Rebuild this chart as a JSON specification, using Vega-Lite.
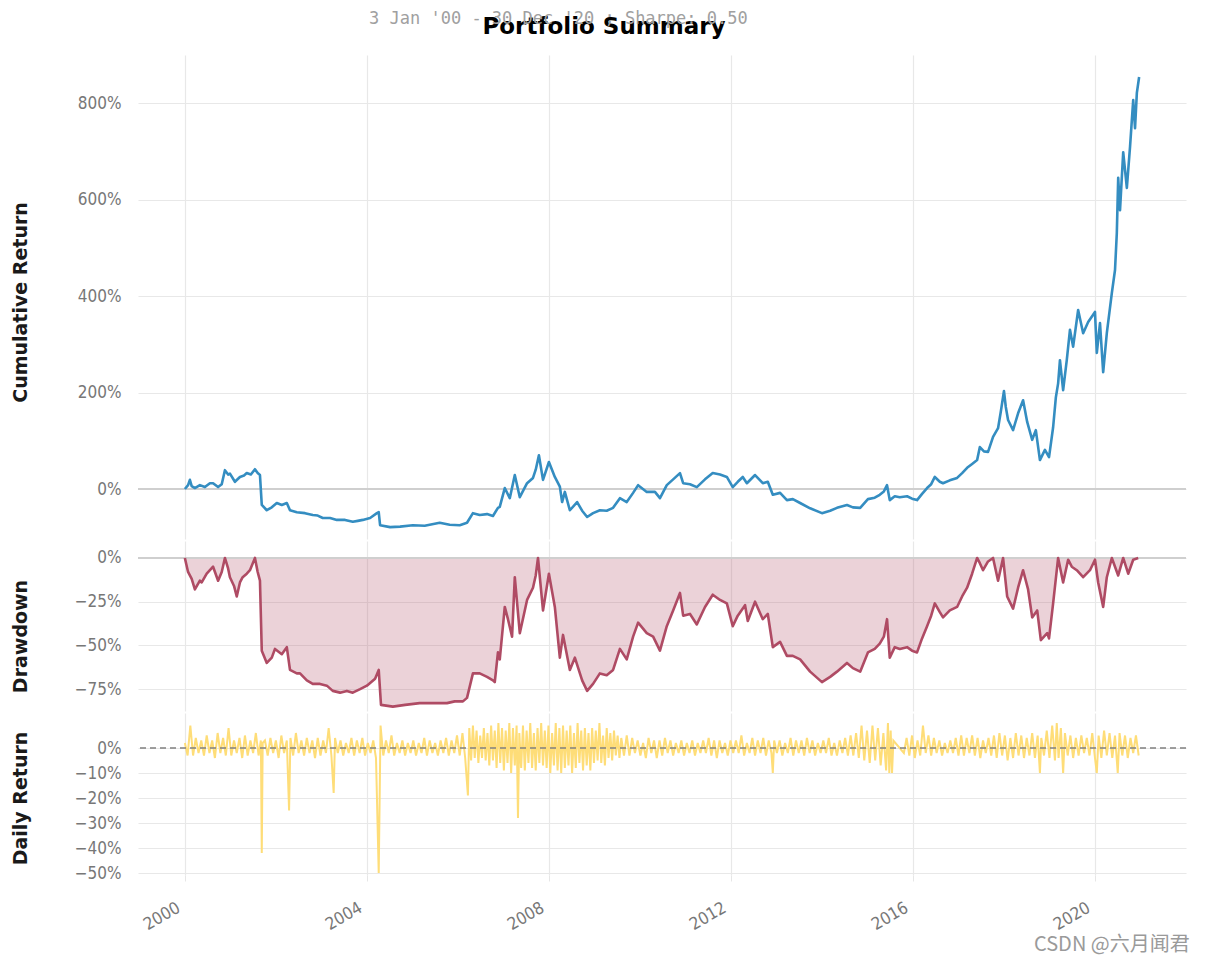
{
  "$schema": "https://vega.github.io/schema/vega-lite/v6.json",
  "padding": {"left": 10, "top": 10, "right": 5, "bottom": 5},
  "background": "white",
  "title": {"text": "3 Jan '00 - 30 Dec '20 ; Sharpe: 0.50", "anchor": "middle", "font": "DejaVu Sans Mono", "fontSize": 17, "fontWeight": "normal", "color": "#a0a0a0", "offset": -12, "dx": -42},
  "spacing": 2,
  "bounds": "flush",
  "datasets": {
    "cum": [
      {"t":2000.00,"c":0},{"t":2000.07,"c":8},{"t":2000.11,"c":19},{"t":2000.15,"c":6},{"t":2000.22,"c":2},{"t":2000.33,"c":8},{"t":2000.44,"c":4},{"t":2000.55,"c":12},{"t":2000.62,"c":12},{"t":2000.73,"c":4},{"t":2000.81,"c":10},{"t":2000.88,"c":39},{"t":2000.95,"c":30},{"t":2000.99,"c":32},
      {"t":2001.10,"c":15},{"t":2001.21,"c":25},{"t":2001.30,"c":28},{"t":2001.36,"c":33},{"t":2001.45,"c":30},{"t":2001.54,"c":41},{"t":2001.60,"c":33},{"t":2001.65,"c":29},{"t":2001.69,"c":-33},{"t":2001.80,"c":-44},{"t":2001.91,"c":-38},
      {"t":2002.02,"c":-29},{"t":2002.13,"c":-33},{"t":2002.24,"c":-29},{"t":2002.31,"c":-44},{"t":2002.46,"c":-48},{"t":2002.64,"c":-50},{"t":2002.81,"c":-54},{"t":2002.92,"c":-55},
      {"t":2003.03,"c":-60},{"t":2003.19,"c":-60},{"t":2003.34,"c":-64},{"t":2003.52,"c":-64},{"t":2003.69,"c":-68},{"t":2003.80,"c":-66},{"t":2003.91,"c":-64},
      {"t":2004.07,"c":-60},{"t":2004.22,"c":-50},{"t":2004.26,"c":-48},{"t":2004.29,"c":-75},{"t":2004.51,"c":-79},{"t":2004.73,"c":-78},
      {"t":2005.01,"c":-75},{"t":2005.27,"c":-76},{"t":2005.60,"c":-70},{"t":2005.82,"c":-74},
      {"t":2006.04,"c":-75},{"t":2006.20,"c":-70},{"t":2006.33,"c":-50},{"t":2006.48,"c":-54},{"t":2006.64,"c":-52},{"t":2006.77,"c":-56},{"t":2006.88,"c":-39},{"t":2006.92,"c":-37},
      {"t":2007.03,"c":2},{"t":2007.14,"c":-19},{"t":2007.25,"c":29},{"t":2007.36,"c":-17},{"t":2007.52,"c":12},{"t":2007.65,"c":23},{"t":2007.71,"c":40},{"t":2007.78,"c":70},{"t":2007.87,"c":19},
      {"t":2008.00,"c":56},{"t":2008.13,"c":25},{"t":2008.24,"c":5},{"t":2008.29,"c":-27},{"t":2008.35,"c":-6},{"t":2008.46,"c":-44},{"t":2008.62,"c":-27},{"t":2008.73,"c":-45},{"t":2008.84,"c":-58},{"t":2008.97,"c":-50},
      {"t":2009.12,"c":-44},{"t":2009.27,"c":-45},{"t":2009.41,"c":-39},{"t":2009.56,"c":-19},{"t":2009.71,"c":-27},{"t":2009.85,"c":-8},{"t":2009.96,"c":8},
      {"t":2010.15,"c":-6},{"t":2010.33,"c":-6},{"t":2010.44,"c":-19},{"t":2010.59,"c":8},{"t":2010.73,"c":20},{"t":2010.88,"c":33},{"t":2010.95,"c":12},
      {"t":2011.10,"c":10},{"t":2011.25,"c":4},{"t":2011.43,"c":20},{"t":2011.60,"c":33},{"t":2011.76,"c":30},{"t":2011.91,"c":25},
      {"t":2012.04,"c":4},{"t":2012.15,"c":15},{"t":2012.26,"c":25},{"t":2012.35,"c":12},{"t":2012.53,"c":29},{"t":2012.70,"c":12},{"t":2012.81,"c":15},{"t":2012.92,"c":-12},
      {"t":2013.08,"c":-8},{"t":2013.23,"c":-23},{"t":2013.36,"c":-21},{"t":2013.52,"c":-29},{"t":2013.74,"c":-40},
      {"t":2014.00,"c":-50},{"t":2014.18,"c":-45},{"t":2014.33,"c":-39},{"t":2014.55,"c":-33},{"t":2014.68,"c":-38},{"t":2014.84,"c":-39},
      {"t":2015.01,"c":-21},{"t":2015.16,"c":-18},{"t":2015.27,"c":-12},{"t":2015.36,"c":-5},{"t":2015.43,"c":8},{"t":2015.49,"c":-23},{"t":2015.60,"c":-15},{"t":2015.71,"c":-17},{"t":2015.87,"c":-15},{"t":2015.98,"c":-20},
      {"t":2016.09,"c":-23},{"t":2016.20,"c":-10},{"t":2016.31,"c":2},{"t":2016.40,"c":10},{"t":2016.48,"c":25},{"t":2016.59,"c":15},{"t":2016.66,"c":12},{"t":2016.81,"c":18},{"t":2016.97,"c":23},
      {"t":2017.08,"c":33},{"t":2017.19,"c":44},{"t":2017.30,"c":52},{"t":2017.41,"c":60},{"t":2017.47,"c":87},{"t":2017.56,"c":78},{"t":2017.65,"c":77},{"t":2017.76,"c":108},{"t":2017.87,"c":126},{"t":2017.93,"c":160},
      {"t":2018.00,"c":203},{"t":2018.04,"c":170},{"t":2018.09,"c":143},{"t":2018.20,"c":122},{"t":2018.31,"c":157},{"t":2018.42,"c":184},{"t":2018.51,"c":139},{"t":2018.62,"c":102},{"t":2018.70,"c":122},{"t":2018.79,"c":60},{"t":2018.90,"c":81},{"t":2018.99,"c":66},
      {"t":2019.08,"c":128},{"t":2019.14,"c":190},{"t":2019.19,"c":219},{"t":2019.23,"c":267},{"t":2019.30,"c":205},{"t":2019.38,"c":267},{"t":2019.45,"c":330},{"t":2019.52,"c":295},{"t":2019.63,"c":371},{"t":2019.74,"c":323},{"t":2019.85,"c":346},
      {"t":2020.00,"c":367},{"t":2020.04,"c":282},{"t":2020.11,"c":344},{"t":2020.18,"c":242},{"t":2020.26,"c":323},{"t":2020.37,"c":406},{"t":2020.44,"c":454},{"t":2020.48,"c":531},{"t":2020.51,"c":645},{"t":2020.55,"c":578},{"t":2020.62,"c":698},{"t":2020.70,"c":624},{"t":2020.77,"c":709},{"t":2020.84,"c":806},{"t":2020.88,"c":748},{"t":2020.92,"c":821},{"t":2020.97,"c":854}
    ],
    "dd": [
      {"t":2000.00,"d":0},{"t":2000.07,"d":-8},{"t":2000.15,"d":-12},{"t":2000.22,"d":-18},{"t":2000.33,"d":-13},{"t":2000.37,"d":-14},{"t":2000.48,"d":-9},{"t":2000.62,"d":-5},{"t":2000.73,"d":-13},{"t":2000.81,"d":-8},{"t":2000.88,"d":0},{"t":2000.95,"d":-6},{"t":2000.99,"d":-11},
      {"t":2001.08,"d":-16},{"t":2001.14,"d":-22},{"t":2001.21,"d":-14},{"t":2001.27,"d":-11},{"t":2001.36,"d":-9},{"t":2001.43,"d":-7},{"t":2001.54,"d":0},{"t":2001.60,"d":-8},{"t":2001.65,"d":-13},{"t":2001.69,"d":-53},{"t":2001.80,"d":-60},{"t":2001.91,"d":-57},{"t":2001.98,"d":-52},
      {"t":2002.13,"d":-55},{"t":2002.24,"d":-51},{"t":2002.31,"d":-64},{"t":2002.46,"d":-66},{"t":2002.53,"d":-66},{"t":2002.68,"d":-70},{"t":2002.81,"d":-72},{"t":2002.97,"d":-72},
      {"t":2003.12,"d":-73},{"t":2003.25,"d":-76},{"t":2003.41,"d":-77},{"t":2003.56,"d":-76},{"t":2003.69,"d":-77},{"t":2003.85,"d":-75},
      {"t":2004.00,"d":-73},{"t":2004.18,"d":-69},{"t":2004.26,"d":-64},{"t":2004.31,"d":-84},{"t":2004.57,"d":-85},{"t":2004.84,"d":-84},
      {"t":2005.16,"d":-83},{"t":2005.49,"d":-83},{"t":2005.76,"d":-83},{"t":2005.93,"d":-82},
      {"t":2006.11,"d":-82},{"t":2006.20,"d":-80},{"t":2006.33,"d":-66},{"t":2006.48,"d":-66},{"t":2006.64,"d":-68},{"t":2006.77,"d":-70},{"t":2006.81,"d":-71},{"t":2006.88,"d":-54},{"t":2006.92,"d":-58},
      {"t":2007.03,"d":-28},{"t":2007.10,"d":-35},{"t":2007.19,"d":-45},{"t":2007.25,"d":-11},{"t":2007.36,"d":-43},{"t":2007.52,"d":-24},{"t":2007.65,"d":-17},{"t":2007.71,"d":-10},{"t":2007.76,"d":0},{"t":2007.87,"d":-30},
      {"t":2008.00,"d":-9},{"t":2008.13,"d":-28},{"t":2008.24,"d":-57},{"t":2008.31,"d":-44},{"t":2008.46,"d":-64},{"t":2008.57,"d":-57},{"t":2008.73,"d":-70},{"t":2008.84,"d":-76},{"t":2008.97,"d":-72},
      {"t":2009.12,"d":-66},{"t":2009.27,"d":-67},{"t":2009.41,"d":-64},{"t":2009.56,"d":-52},{"t":2009.71,"d":-58},{"t":2009.85,"d":-45},{"t":2009.96,"d":-37},
      {"t":2010.15,"d":-43},{"t":2010.29,"d":-45},{"t":2010.44,"d":-53},{"t":2010.59,"d":-39},{"t":2010.73,"d":-30},{"t":2010.88,"d":-20},{"t":2010.95,"d":-33},
      {"t":2011.10,"d":-32},{"t":2011.25,"d":-38},{"t":2011.43,"d":-28},{"t":2011.60,"d":-21},{"t":2011.76,"d":-24},{"t":2011.91,"d":-26},
      {"t":2012.04,"d":-39},{"t":2012.15,"d":-33},{"t":2012.31,"d":-27},{"t":2012.37,"d":-36},{"t":2012.53,"d":-25},{"t":2012.70,"d":-35},{"t":2012.81,"d":-32},{"t":2012.92,"d":-51},
      {"t":2013.08,"d":-48},{"t":2013.23,"d":-56},{"t":2013.36,"d":-56},{"t":2013.52,"d":-58},{"t":2013.74,"d":-65},
      {"t":2014.00,"d":-71},{"t":2014.18,"d":-68},{"t":2014.33,"d":-65},{"t":2014.55,"d":-60},{"t":2014.68,"d":-63},{"t":2014.84,"d":-65},
      {"t":2015.01,"d":-54},{"t":2015.16,"d":-52},{"t":2015.27,"d":-49},{"t":2015.36,"d":-45},{"t":2015.43,"d":-35},{"t":2015.49,"d":-57},{"t":2015.60,"d":-51},{"t":2015.71,"d":-52},{"t":2015.87,"d":-51},{"t":2015.98,"d":-53},
      {"t":2016.09,"d":-54},{"t":2016.20,"d":-46},{"t":2016.31,"d":-39},{"t":2016.40,"d":-33},{"t":2016.48,"d":-26},{"t":2016.59,"d":-31},{"t":2016.66,"d":-34},{"t":2016.81,"d":-30},{"t":2016.97,"d":-28},
      {"t":2017.08,"d":-22},{"t":2017.19,"d":-17},{"t":2017.30,"d":-9},{"t":2017.41,"d":0},{"t":2017.47,"d":-3},{"t":2017.54,"d":-7},{"t":2017.65,"d":-2},{"t":2017.76,"d":0},{"t":2017.87,"d":-13},{"t":2017.98,"d":0},
      {"t":2018.07,"d":-22},{"t":2018.20,"d":-29},{"t":2018.31,"d":-17},{"t":2018.42,"d":-7},{"t":2018.53,"d":-18},{"t":2018.62,"d":-34},{"t":2018.73,"d":-30},{"t":2018.81,"d":-47},{"t":2018.95,"d":-43},{"t":2018.99,"d":-46},
      {"t":2019.08,"d":-26},{"t":2019.19,"d":0},{"t":2019.30,"d":-14},{"t":2019.41,"d":-1},{"t":2019.49,"d":-5},{"t":2019.60,"d":-7},{"t":2019.74,"d":-11},{"t":2019.89,"d":-7},
      {"t":2020.00,"d":-1},{"t":2020.07,"d":-14},{"t":2020.18,"d":-28},{"t":2020.26,"d":-11},{"t":2020.37,"d":0},{"t":2020.51,"d":-10},{"t":2020.62,"d":0},{"t":2020.73,"d":-9},{"t":2020.84,"d":-1},{"t":2020.95,"d":0}
    ],
    "ret": [
      {"t":2000.00,"r":2},{"t":2000.06,"r":-3},{"t":2000.12,"r":9},{"t":2000.18,"r":-3},{"t":2000.24,"r":4},{"t":2000.30,"r":-2},{"t":2000.36,"r":3},{"t":2000.42,"r":-3},{"t":2000.48,"r":5},{"t":2000.54,"r":-2},{"t":2000.60,"r":3},{"t":2000.66,"r":-4},{"t":2000.72,"r":6},{"t":2000.78,"r":-2},{"t":2000.84,"r":4},{"t":2000.90,"r":-3},{"t":2000.96,"r":8},
      {"t":2001.02,"r":-3},{"t":2001.08,"r":3},{"t":2001.14,"r":-2},{"t":2001.20,"r":4},{"t":2001.26,"r":-4},{"t":2001.32,"r":5},{"t":2001.38,"r":-3},{"t":2001.44,"r":3},{"t":2001.50,"r":-2},{"t":2001.56,"r":6},{"t":2001.62,"r":-3},{"t":2001.67,"r":3},{"t":2001.69,"r":-42},{"t":2001.71,"r":2},
      {"t":2001.76,"r":3},{"t":2001.82,"r":-3},{"t":2001.88,"r":4},{"t":2001.94,"r":-2},{"t":2002.00,"r":3},{"t":2002.06,"r":-4},{"t":2002.12,"r":5},{"t":2002.18,"r":-2},{"t":2002.24,"r":3},{"t":2002.29,"r":-25},{"t":2002.32,"r":4},{"t":2002.38,"r":-3},{"t":2002.44,"r":6},{"t":2002.50,"r":-2},{"t":2002.56,"r":3},{"t":2002.62,"r":-3},{"t":2002.68,"r":4},{"t":2002.74,"r":-2},{"t":2002.80,"r":3},{"t":2002.86,"r":-4},{"t":2002.92,"r":4},{"t":2002.98,"r":-3},
      {"t":2003.04,"r":3},{"t":2003.10,"r":-2},{"t":2003.16,"r":8},{"t":2003.22,"r":-3},{"t":2003.27,"r":-18},{"t":2003.30,"r":4},{"t":2003.36,"r":-2},{"t":2003.42,"r":3},{"t":2003.48,"r":-3},{"t":2003.54,"r":2},{"t":2003.60,"r":-2},{"t":2003.66,"r":4},{"t":2003.72,"r":-3},{"t":2003.78,"r":3},{"t":2003.84,"r":-2},{"t":2003.90,"r":4},{"t":2003.96,"r":-3},
      {"t":2004.02,"r":2},{"t":2004.08,"r":-2},{"t":2004.14,"r":3},{"t":2004.20,"r":-4},{"t":2004.26,"r":-50},{"t":2004.30,"r":9},{"t":2004.36,"r":-3},{"t":2004.42,"r":3},{"t":2004.48,"r":-2},{"t":2004.54,"r":5},{"t":2004.60,"r":-3},{"t":2004.66,"r":2},{"t":2004.72,"r":-2},{"t":2004.78,"r":3},{"t":2004.84,"r":-3},{"t":2004.90,"r":2},{"t":2004.96,"r":-2},
      {"t":2005.02,"r":3},{"t":2005.08,"r":-3},{"t":2005.14,"r":2},{"t":2005.20,"r":-2},{"t":2005.26,"r":4},{"t":2005.32,"r":-3},{"t":2005.38,"r":3},{"t":2005.44,"r":-2},{"t":2005.50,"r":2},{"t":2005.56,"r":-3},{"t":2005.62,"r":3},{"t":2005.68,"r":-2},{"t":2005.74,"r":4},{"t":2005.80,"r":-3},{"t":2005.86,"r":3},{"t":2005.92,"r":-2},{"t":2005.98,"r":5},
      {"t":2006.04,"r":-3},{"t":2006.10,"r":6},{"t":2006.16,"r":-4},{"t":2006.22,"r":-19},{"t":2006.25,"r":8},{"t":2006.29,"r":-5},{"t":2006.33,"r":9},{"t":2006.37,"r":-4},{"t":2006.41,"r":7},{"t":2006.45,"r":-6},{"t":2006.49,"r":5},{"t":2006.53,"r":-4},{"t":2006.57,"r":8},{"t":2006.61,"r":-5},{"t":2006.65,"r":6},{"t":2006.69,"r":-7},{"t":2006.73,"r":9},{"t":2006.77,"r":-5},{"t":2006.81,"r":7},{"t":2006.85,"r":-8},{"t":2006.89,"r":10},{"t":2006.93,"r":-6},{"t":2006.97,"r":8},
      {"t":2007.01,"r":-9},{"t":2007.05,"r":7},{"t":2007.09,"r":-6},{"t":2007.13,"r":10},{"t":2007.17,"r":-10},{"t":2007.21,"r":8},{"t":2007.25,"r":-7},{"t":2007.29,"r":9},{"t":2007.32,"r":-28},{"t":2007.35,"r":6},{"t":2007.39,"r":-8},{"t":2007.43,"r":9},{"t":2007.47,"r":-9},{"t":2007.51,"r":7},{"t":2007.55,"r":-6},{"t":2007.59,"r":10},{"t":2007.63,"r":-8},{"t":2007.67,"r":6},{"t":2007.71,"r":-9},{"t":2007.75,"r":8},{"t":2007.79,"r":-6},{"t":2007.83,"r":10},{"t":2007.87,"r":-7},{"t":2007.91,"r":7},{"t":2007.95,"r":-8},{"t":2007.99,"r":9},
      {"t":2008.03,"r":-10},{"t":2008.07,"r":6},{"t":2008.11,"r":-7},{"t":2008.15,"r":10},{"t":2008.19,"r":-9},{"t":2008.23,"r":8},{"t":2008.27,"r":-10},{"t":2008.31,"r":9},{"t":2008.35,"r":-8},{"t":2008.39,"r":7},{"t":2008.43,"r":-7},{"t":2008.47,"r":9},{"t":2008.51,"r":-10},{"t":2008.55,"r":6},{"t":2008.59,"r":-8},{"t":2008.63,"r":10},{"t":2008.67,"r":-6},{"t":2008.71,"r":7},{"t":2008.75,"r":-9},{"t":2008.79,"r":8},{"t":2008.83,"r":-7},{"t":2008.87,"r":6},{"t":2008.91,"r":-9},{"t":2008.95,"r":8},{"t":2008.99,"r":-6},
      {"t":2009.03,"r":7},{"t":2009.07,"r":-5},{"t":2009.11,"r":10},{"t":2009.15,"r":-6},{"t":2009.19,"r":5},{"t":2009.23,"r":-7},{"t":2009.27,"r":8},{"t":2009.31,"r":-4},{"t":2009.35,"r":6},{"t":2009.39,"r":-5},{"t":2009.43,"r":7},{"t":2009.47,"r":-3},{"t":2009.51,"r":5},{"t":2009.55,"r":-4},
      {"t":2009.59,"r":4},{"t":2009.65,"r":-3},{"t":2009.71,"r":5},{"t":2009.77,"r":-3},{"t":2009.83,"r":4},{"t":2009.89,"r":-2},{"t":2009.95,"r":3},
      {"t":2010.01,"r":-3},{"t":2010.07,"r":2},{"t":2010.13,"r":-4},{"t":2010.19,"r":4},{"t":2010.25,"r":-2},{"t":2010.31,"r":3},{"t":2010.37,"r":-4},{"t":2010.43,"r":3},{"t":2010.49,"r":-3},{"t":2010.55,"r":4},{"t":2010.61,"r":-2},{"t":2010.67,"r":3},{"t":2010.73,"r":-3},{"t":2010.79,"r":2},{"t":2010.85,"r":-2},{"t":2010.91,"r":3},{"t":2010.97,"r":-3},
      {"t":2011.03,"r":2},{"t":2011.09,"r":-2},{"t":2011.15,"r":3},{"t":2011.21,"r":-3},{"t":2011.27,"r":2},{"t":2011.33,"r":-2},{"t":2011.39,"r":3},{"t":2011.45,"r":-2},{"t":2011.51,"r":4},{"t":2011.57,"r":-3},{"t":2011.63,"r":3},{"t":2011.69,"r":-4},{"t":2011.75,"r":3},{"t":2011.81,"r":-2},{"t":2011.87,"r":2},{"t":2011.93,"r":-3},{"t":2011.99,"r":3},
      {"t":2012.05,"r":-2},{"t":2012.11,"r":3},{"t":2012.17,"r":-2},{"t":2012.23,"r":5},{"t":2012.29,"r":-3},{"t":2012.35,"r":2},{"t":2012.41,"r":-2},{"t":2012.47,"r":4},{"t":2012.53,"r":-3},{"t":2012.59,"r":3},{"t":2012.65,"r":-2},{"t":2012.71,"r":4},{"t":2012.77,"r":-3},{"t":2012.83,"r":3},{"t":2012.89,"r":-2},{"t":2012.92,"r":-10},{"t":2012.95,"r":3},
      {"t":2013.01,"r":-2},{"t":2013.07,"r":3},{"t":2013.13,"r":-3},{"t":2013.19,"r":2},{"t":2013.25,"r":-2},{"t":2013.31,"r":4},{"t":2013.37,"r":-3},{"t":2013.43,"r":3},{"t":2013.49,"r":-2},{"t":2013.55,"r":3},{"t":2013.61,"r":-3},{"t":2013.67,"r":4},{"t":2013.73,"r":-2},{"t":2013.79,"r":3},{"t":2013.85,"r":-3},{"t":2013.91,"r":2},{"t":2013.97,"r":-2},
      {"t":2014.03,"r":3},{"t":2014.09,"r":-2},{"t":2014.15,"r":4},{"t":2014.21,"r":-3},{"t":2014.27,"r":2},{"t":2014.33,"r":-3},{"t":2014.39,"r":3},{"t":2014.45,"r":-2},{"t":2014.51,"r":4},{"t":2014.57,"r":-3},{"t":2014.63,"r":5},{"t":2014.69,"r":-3},{"t":2014.75,"r":6},{"t":2014.81,"r":-4},{"t":2014.87,"r":9},{"t":2014.93,"r":-5},{"t":2014.99,"r":7},
      {"t":2015.05,"r":-6},{"t":2015.11,"r":9},{"t":2015.17,"r":-5},{"t":2015.23,"r":8},{"t":2015.29,"r":-7},{"t":2015.35,"r":6},{"t":2015.41,"r":-9},{"t":2015.45,"r":10},{"t":2015.48,"r":-10},{"t":2015.51,"r":7},{"t":2015.54,"r":-10},{"t":2015.57,"r":3},
      {"t":2015.80,"r":-2},{"t":2015.86,"r":4},{"t":2015.92,"r":-3},{"t":2015.98,"r":5},
      {"t":2016.04,"r":-4},{"t":2016.10,"r":3},{"t":2016.16,"r":-3},{"t":2016.22,"r":9},{"t":2016.28,"r":-2},{"t":2016.34,"r":5},{"t":2016.40,"r":-3},{"t":2016.46,"r":4},{"t":2016.52,"r":-2},{"t":2016.58,"r":3},{"t":2016.64,"r":-3},{"t":2016.70,"r":2},{"t":2016.76,"r":-2},{"t":2016.82,"r":3},{"t":2016.88,"r":-2},{"t":2016.94,"r":4},
      {"t":2017.00,"r":-3},{"t":2017.06,"r":5},{"t":2017.12,"r":-3},{"t":2017.18,"r":4},{"t":2017.24,"r":-2},{"t":2017.30,"r":5},{"t":2017.36,"r":-3},{"t":2017.42,"r":4},{"t":2017.48,"r":-4},{"t":2017.54,"r":3},{"t":2017.60,"r":-2},{"t":2017.66,"r":4},{"t":2017.72,"r":-3},{"t":2017.78,"r":5},{"t":2017.84,"r":-4},{"t":2017.90,"r":6},{"t":2017.96,"r":-3},
      {"t":2018.02,"r":5},{"t":2018.08,"r":-5},{"t":2018.14,"r":4},{"t":2018.20,"r":-4},{"t":2018.26,"r":6},{"t":2018.32,"r":-3},{"t":2018.38,"r":5},{"t":2018.44,"r":-4},{"t":2018.50,"r":4},{"t":2018.56,"r":-3},{"t":2018.62,"r":6},{"t":2018.68,"r":-4},{"t":2018.74,"r":5},{"t":2018.79,"r":-10},{"t":2018.82,"r":4},{"t":2018.88,"r":-3},{"t":2018.94,"r":7},
      {"t":2019.00,"r":-4},{"t":2019.06,"r":9},{"t":2019.12,"r":-5},{"t":2019.16,"r":10},{"t":2019.20,"r":-4},{"t":2019.25,"r":8},{"t":2019.30,"r":-10},{"t":2019.34,"r":6},{"t":2019.40,"r":-3},{"t":2019.46,"r":5},{"t":2019.52,"r":-4},{"t":2019.58,"r":4},{"t":2019.64,"r":-3},{"t":2019.70,"r":5},{"t":2019.76,"r":-2},{"t":2019.82,"r":4},{"t":2019.88,"r":-3},{"t":2019.94,"r":6},
      {"t":2020.00,"r":-4},{"t":2020.04,"r":-10},{"t":2020.08,"r":5},{"t":2020.14,"r":-4},{"t":2020.20,"r":7},{"t":2020.26,"r":-3},{"t":2020.32,"r":6},{"t":2020.38,"r":-4},{"t":2020.44,"r":5},{"t":2020.50,"r":-10},{"t":2020.54,"r":6},{"t":2020.60,"r":-3},{"t":2020.66,"r":5},{"t":2020.72,"r":-4},{"t":2020.78,"r":4},{"t":2020.84,"r":-2},{"t":2020.90,"r":5},{"t":2020.96,"r":-3}
    ],
    "zero": [{"z": 0}]
  },
  "vconcat": [
    {
      "width": 1048,
      "height": 484,
      "title": {"text": "Portfolio Summary", "font": "DejaVu Sans", "fontSize": 23, "fontWeight": "bold", "color": "#000000", "anchor": "middle", "dx": -58, "offset": 16},
      "layer": [
        {
          "data": {"name": "zero"},
          "mark": {"type": "rule", "color": "#cfcfcf", "strokeWidth": 2},
          "encoding": {"y": {"field": "z", "type": "quantitative", "scale": {"domain": [-103.6, 899.5], "nice": false, "zero": false}}}
        },
        {
          "data": {"name": "cum"},
          "mark": {"type": "line", "color": "#348dc1", "strokeWidth": 2.6, "strokeJoin": "round"},
          "encoding": {
            "x": {"field": "t", "type": "quantitative", "scale": {"domain": [1998.97, 2022.0], "nice": false, "zero": false},
                  "axis": {"values": [2000, 2004, 2008, 2012, 2016, 2020], "tickCount": 20, "labels": false, "ticks": false, "domain": false, "grid": true, "title": null}},
            "y": {"field": "c", "type": "quantitative", "scale": {"domain": [-103.6, 899.5], "nice": false, "zero": false},
                  "axis": {"values": [0, 200, 400, 600, 800], "tickCount": 20, "labelExpr": "datum.value < 0 ? '−' + (-datum.value) + '%' : datum.value + '%'", "title": "Cumulative Return", "titleX": -118, "titleY": 247, "titleAngle": -90, "titleAlign": "center", "titleBaseline": "middle"}}
          }
        }
      ]
    },
    {
      "width": 1048,
      "height": 170,
      "layer": [
        {
          "data": {"name": "dd"},
          "mark": {"type": "area", "color": "#af4b64", "opacity": 0.25},
          "encoding": {
            "x": {"field": "t", "type": "quantitative", "scale": {"domain": [1998.97, 2022.0], "nice": false, "zero": false},
                  "axis": {"values": [2000, 2004, 2008, 2012, 2016, 2020], "tickCount": 20, "labels": false, "ticks": false, "domain": false, "grid": true, "title": null}},
            "y": {"field": "d", "type": "quantitative", "scale": {"domain": [-87.5, 9.7], "nice": false, "zero": false},
                  "axis": {"values": [0, -25, -50, -75], "tickCount": 20, "labelExpr": "datum.value < 0 ? '−' + (-datum.value) + '%' : datum.value + '%'", "title": "Drawdown", "titleX": -118, "titleY": 95, "titleAngle": -90, "titleAlign": "center", "titleBaseline": "middle"}},
            "y2": {"datum": 0}
          }
        },
        {
          "data": {"name": "zero"},
          "mark": {"type": "rule", "color": "#cfcfcf", "strokeWidth": 2},
          "encoding": {"y": {"field": "z", "type": "quantitative"}}
        },
        {
          "data": {"name": "dd"},
          "mark": {"type": "line", "color": "#af4b64", "strokeWidth": 2.6, "strokeJoin": "round"},
          "encoding": {
            "x": {"field": "t", "type": "quantitative"},
            "y": {"field": "d", "type": "quantitative"}
          }
        }
      ]
    },
    {
      "width": 1048,
      "height": 162,
      "title": {"text": "CSDN @六月闻君", "orient": "bottom", "anchor": "end", "font": "Noto Sans CJK SC", "fontSize": 20, "fontWeight": "normal", "color": "#9a9a9a", "offset": 2, "dx": 3},
      "layer": [
        {
          "data": {"name": "ret"},
          "mark": {"type": "line", "color": "#fedd78", "strokeWidth": 2},
          "encoding": {
            "x": {"field": "t", "type": "quantitative", "scale": {"domain": [1998.97, 2022.0], "nice": false, "zero": false},
                  "axis": {"values": [2000, 2004, 2008, 2012, 2016, 2020], "tickCount": 20, "format": "d", "labelAngle": -30, "labelAlign": "right", "labelBaseline": "bottom", "labelPadding": 33, "labelOffset": -2, "ticks": true, "tickSize": 6, "tickColor": "#e6e6e6", "domain": false, "grid": true, "title": null}},
            "y": {"field": "r", "type": "quantitative", "scale": {"domain": [-50.8, 14], "nice": false, "zero": false},
                  "axis": {"values": [0, -10, -20, -30, -40, -50], "tickCount": 20, "labelExpr": "datum.value < 0 ? '−' + (-datum.value) + '%' : datum.value + '%'", "title": "Daily Return", "titleX": -118, "titleY": 85, "titleAngle": -90, "titleAlign": "center", "titleBaseline": "middle"}}
          }
        },
        {
          "data": {"name": "zero"},
          "mark": {"type": "rule", "color": "#808080", "strokeWidth": 1.5, "strokeDash": [6, 4]},
          "encoding": {"y": {"field": "z", "type": "quantitative"}}
        }
      ]
    }
  ],
  "config": {
    "view": {"stroke": null},
    "axis": {
      "gridColor": "#e8e8e8",
      "gridWidth": 1.2,
      "domain": false,
      "ticks": false,
      "tickSize": 0,
      "labelColor": "#777777",
      "labelFont": "DejaVu Sans Condensed, Roboto, Liberation Sans",
      "labelFontSize": 17,
      "labelPadding": 17,
      "labelOverlap": false,
      "titleFont": "DejaVu Sans",
      "titleFontSize": 19,
      "titleFontWeight": "bold",
      "titleColor": "#1a1a1a"
    }
  }
}
